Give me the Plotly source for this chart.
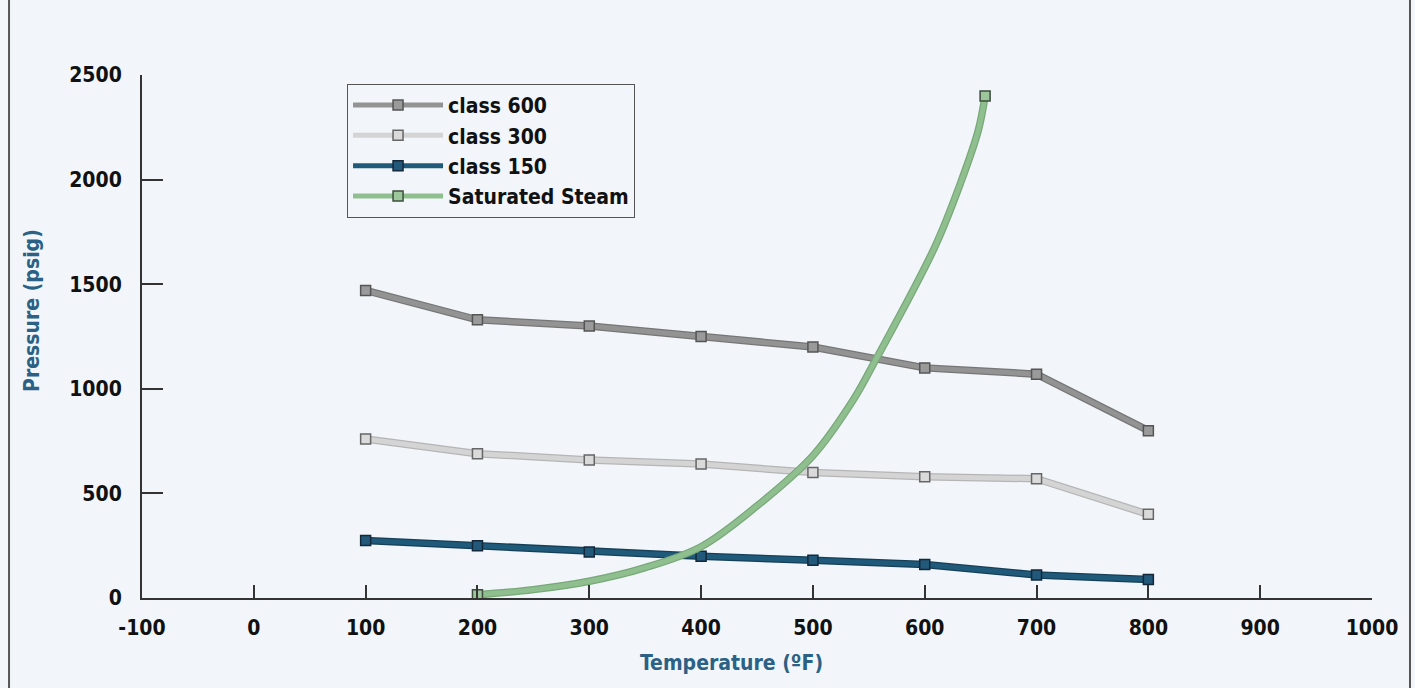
import plotly.graph_objects as go

# DATA
temps = [100, 200, 300, 400, 500, 600, 700, 800]
class_600 = [1470, 1330, 1300, 1250, 1200, 1100, 1070, 800]
class_300 = [760, 690, 660, 640, 600, 580, 570, 400]
class_150 = [275, 250, 220, 200, 180, 160, 110, 88]

steam_temps = [200, 250, 300, 350, 400, 450, 500, 536, 557, 609, 633, 648, 654]
steam_psig = [15, 40, 80, 145, 245, 440, 680, 946, 1147, 1678, 1998, 2237, 2400]

x_ticks = [-100, 0, 100, 200, 300, 400, 500, 600, 700, 800, 900, 1000]
x_labels = ["-100", "0", "100", "200", "300", "400", "500", "600", "700", "800", "900", "1000"]
y_ticks = [0, 500, 1000, 1500, 2000, 2500]

FONT = "DejaVu Sans Condensed, Liberation Sans Narrow, Roboto, sans-serif"
BG = "#f2f6fa"
TITLE_BLUE = "#2b6185"
FS = 21

series = [
    # name, x, y, line colour, edge colour, marker fill, marker border
    ("class 600", temps, class_600, "#939393", "#767676", "#9a9a9a", "#555555"),
    ("class 300", temps, class_300, "#d4d4d4", "#b5b5b5", "#dadada", "#666666"),
    ("class 150", temps, class_150, "#1f5a7b", "#163f57", "#22597a", "#13283a"),
    ("Saturated Steam", steam_temps, steam_psig, "#8fbf8f", "#78a878", "#9cc79c", "#3d4d3d"),
]

fig = go.Figure()

for name, xs, ys, col, edge, fill, border in series:
    steam = name == "Saturated Steam"
    shape = "spline" if steam else "linear"
    # darker underlay gives the lines their edge
    fig.add_trace(go.Scatter(
        x=xs, y=ys, mode="lines", showlegend=False, hoverinfo="skip",
        line=dict(color=edge, width=7.5, shape=shape),
    ))
    mk = dict(symbol="square", size=10, color=fill, line=dict(color=border, width=1.5))
    if steam:
        # smooth curve, markers only on the two ends
        fig.add_trace(go.Scatter(
            x=xs, y=ys, mode="lines", showlegend=False,
            line=dict(color=col, width=5, shape=shape),
        ))
        fig.add_trace(go.Scatter(
            x=[xs[0], None, xs[-1]], y=[ys[0], None, ys[-1]],
            mode="lines+markers", name=name, connectgaps=False,
            line=dict(color=col, width=5), marker=mk,
        ))
    else:
        fig.add_trace(go.Scatter(
            x=xs, y=ys, mode="lines+markers", name=name,
            line=dict(color=col, width=5), marker=mk,
        ))

# frame round the graphic
fig.add_shape(type="rect", xref="paper", yref="paper",
              x0=-0.1081, x1=1.0309, y0=-0.5, y1=1.5,
              line=dict(color="#555555", width=2), fillcolor="rgba(0,0,0,0)",
              layer="below")

# axis titles sit a little off-centre in the original
title_font = dict(family=FONT, size=FS, color=TITLE_BLUE, weight="bold")
fig.add_annotation(text="Temperature (ºF)", xref="paper", yref="paper",
                   x=0.479, y=-0.124, xanchor="center", yanchor="middle",
                   showarrow=False, font=title_font)
fig.add_annotation(text="Pressure (psig)", xref="paper", yref="paper",
                   x=-0.0894, y=0.549, xanchor="center", yanchor="middle",
                   textangle=-90, showarrow=False, font=title_font)

fig.update_layout(
    width=1415, height=688,
    margin=dict(l=142, r=43, t=75, b=90),
    paper_bgcolor=BG, plot_bgcolor=BG,
    font=dict(family=FONT, size=FS, color="#111111", weight="bold"),
    legend=dict(
        x=0.1667, y=0.983, xanchor="left", yanchor="top",
        bgcolor="rgba(0,0,0,0)", bordercolor="#555555", borderwidth=1,
        font=dict(family=FONT, size=FS, color="#111111", weight="bold"),
        tracegroupgap=0, itemwidth=90,
    ),
    xaxis=dict(
        range=[-100, 1000], tickvals=x_ticks, ticktext=x_labels,
        ticks="inside", ticklen=13,
        tickwidth=1.5, tickcolor="#333333", showgrid=False, zeroline=False,
        showline=True, linecolor="#333333", linewidth=2,
        ticklabelstandoff=10,
    ),
    yaxis=dict(
        range=[0, 2500], tickvals=y_ticks, ticks="inside", ticklen=21,
        tickwidth=1.5, tickcolor="#333333", showgrid=False, zeroline=False,
        showline=True, linecolor="#333333", linewidth=2,
        ticklabelstandoff=14,
    ),
)

fig.write_html("out.html", config={"displayModeBar": False},
               post_script="document.body.style.margin='0';")
